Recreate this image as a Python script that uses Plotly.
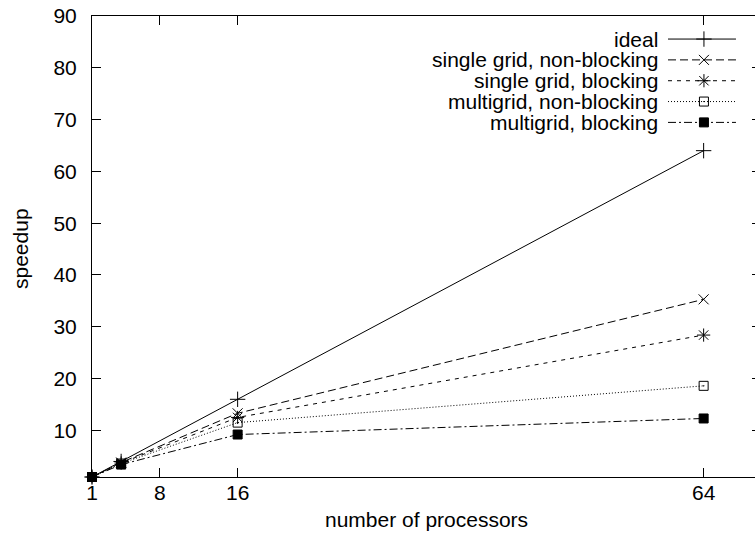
import plotly.graph_objects as go

# ---- data ----
processors = [1, 4, 16, 64]
ideal = [1, 4, 16, 64]
single_nonblocking = [1, 3.8, 13.3, 35.3]
single_blocking = [1, 3.7, 12.5, 28.4]
multi_nonblocking = [1, 3.6, 11.5, 18.6]
multi_blocking = [1, 3.4, 9.2, 12.3]

series_names = ["ideal", "single grid, non-blocking", "single grid, blocking",
                "multigrid, non-blocking", "multigrid, blocking"]
series_values = [ideal, single_nonblocking, single_blocking, multi_nonblocking, multi_blocking]

x_ticks = [1, 8, 16, 64]
y_ticks = [10, 20, 30, 40, 50, 60, 70, 80, 90]

# ---- styles ----
FONT = "Liberation Sans, Arial, Helvetica, sans-serif"
FS = 21
styles = [
    dict(dash="solid", symbol="cross-thin", size=11),
    dict(dash="8px,4px", symbol="x-thin", size=10),
    dict(dash="4px,5px", symbol="asterisk", size=11),
    dict(dash="1px,2px", symbol="square-open-dot", size=9),
    dict(dash="8px,3px,2px,3px", symbol="square", size=9),
]

fig = go.Figure()

for name, vals, st in zip(series_names, series_values, styles):
    fig.add_trace(go.Scatter(
        x=processors, y=vals, name=name, mode="lines+markers",
        line=dict(color="black", width=1, dash=st["dash"]),
        marker=dict(symbol=st["symbol"], size=st["size"], color="black",
                    line=dict(color="black", width=1)),
        showlegend=False, cliponaxis=False,
    ))

# right-side mirrored short ticks
fig.add_trace(go.Scatter(x=[], y=[], yaxis="y2", showlegend=False))

# gnuplot-style key: text then sample (drawn on an auxiliary 0..1 overlay)
key_top = 0.950
key_step = 0.0452
key_text_x = 0.8567
key_line = [0.8688, 0.9713]
key_mark = 0.923
annotations = []
for i, (name, st) in enumerate(zip(series_names, styles)):
    yy = key_top - i * key_step
    fig.add_trace(go.Scatter(
        x=key_line, y=[yy, yy], mode="lines", xaxis="x2", yaxis="y3",
        line=dict(color="black", width=1, dash=st["dash"]),
        showlegend=False, hoverinfo="skip",
    ))
    fig.add_trace(go.Scatter(
        x=[key_mark], y=[yy], mode="markers", xaxis="x2", yaxis="y3",
        marker=dict(symbol=st["symbol"], size=st["size"], color="black",
                    line=dict(color="black", width=1)),
        showlegend=False, hoverinfo="skip",
    ))
    annotations.append(dict(
        text=name, xref="paper", yref="paper", x=key_text_x, y=yy,
        xanchor="right", yanchor="middle", showarrow=False,
        font=dict(family=FONT, size=FS, color="black"),
    ))

annotations.append(dict(text="number of processors", xref="paper", yref="paper",
                        x=0.5045, y=-0.093, xanchor="center", yanchor="middle",
                        showarrow=False, font=dict(family=FONT, size=FS, color="black")))
annotations.append(dict(text="speedup", xref="paper", yref="paper",
                        x=-0.1086, y=0.4967, xanchor="center", yanchor="middle",
                        textangle=-90, showarrow=False,
                        font=dict(family=FONT, size=FS, color="black")))

fig.update_layout(
    width=755, height=535,
    margin=dict(l=92, r=0, t=16, b=58),
    paper_bgcolor="white", plot_bgcolor="white",
    font=dict(family=FONT, size=FS, color="black"),
    showlegend=False,
    annotations=annotations,
    xaxis=dict(range=[1, 69.29], tickvals=x_ticks, ticktext=[str(v) for v in x_ticks],
               ticks="inside", ticklen=9, tickcolor="black", tickwidth=1,
               showline=True, linecolor="black", linewidth=1, mirror="ticks",
               showgrid=False, zeroline=False, ticklabelstandoff=-3),
    yaxis=dict(range=[1, 90], tickvals=y_ticks, ticktext=[str(v) for v in y_ticks],
               ticks="inside", ticklen=9, tickcolor="black", tickwidth=1,
               showline=True, linecolor="black", linewidth=1, mirror=False,
               showgrid=False, zeroline=False, ticklabelstandoff=10),
    yaxis2=dict(range=[1, 90], tickvals=y_ticks, overlaying="y", side="right",
                ticks="inside", ticklen=3, tickcolor="black", tickwidth=1,
                showticklabels=False, showline=False, showgrid=False, zeroline=False),
    xaxis2=dict(range=[0, 1], overlaying="x", visible=False, fixedrange=True),
    yaxis3=dict(range=[0, 1], overlaying="y", anchor="x2", visible=False, fixedrange=True),
)

# place the 755x535 figure flush with the page corner
fig.write_html("out.html", config={"displayModeBar": False},
               post_script="document.body.style.margin='0px';document.body.style.overflow='hidden';")
